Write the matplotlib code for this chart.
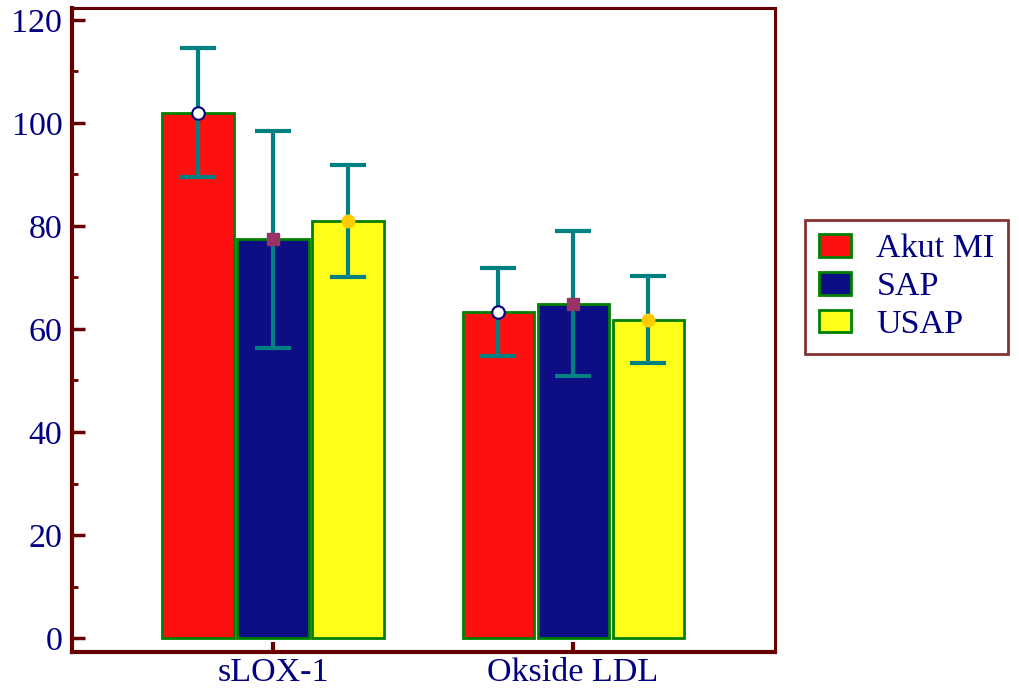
import matplotlib.pyplot as plt
import numpy as np

# groups and series
groups = ['sLOX-1', 'Okside LDL']
series = ['Akut MI', 'SAP', 'USAP']
means = {
    'Akut MI': [102.0, 63.3],
    'SAP': [77.4, 64.9],
    'USAP': [81.0, 61.8],
}
sd = {
    'Akut MI': [12.5, 8.6],
    'SAP': [21.0, 14.1],
    'USAP': [10.9, 8.5],
}

bar_colors = {'Akut MI': '#ff1010', 'SAP': '#0e0e84', 'USAP': '#ffff1a'}
mark_style = {
    'Akut MI': dict(marker='o', mfc='white', mec='#000080', ms=9, mew=1.5),
    'SAP': dict(marker='s', mfc='#993366', mec='#993366', ms=9, mew=1),
    'USAP': dict(marker='o', mfc='#ffcc00', mec='#ffcc00', ms=9, mew=1),
}

plt.rcParams['font.family'] = ['Liberation Serif', 'DejaVu Serif']
navy = '#000080'
maroon = '#660000'

fig = plt.figure(figsize=(10.2, 6.95), dpi=100)
# axes box in pixels: left 72, right 775, top 8, bottom 652
ax = fig.add_axes([72 / 1020, 1 - 652 / 695, (775 - 72) / 1020, (652 - 8) / 695])

x = np.arange(len(groups))
w = 0.237
step = 0.25
handles = []
for i, s in enumerate(series):
    xs = x + (i - 1) * step
    b = ax.bar(xs, means[s], width=w, color=bar_colors[s], edgecolor='#008000',
               linewidth=2, label=s, zorder=2)
    handles.append(b)
    ax.errorbar(xs, means[s], yerr=sd[s], fmt='none', ecolor='#008080',
                elinewidth=3, capsize=13, capthick=3, zorder=3)
    ax.plot(xs, means[s], linestyle='none', zorder=4, **mark_style[s])

ax.set_xlim(-0.67, 1.673)
ax.set_ylim(-2.7, 122.3)
ax.set_yticks(np.arange(0, 121, 20))
ax.set_yticks(np.arange(10, 120, 20), minor=True)
ax.set_xticks(x)
ax.set_xticklabels(groups)

for sp in ax.spines.values():
    sp.set_color(maroon)
    sp.set_linewidth(2.2)
ax.spines['left'].set_linewidth(3)
ax.spines['bottom'].set_linewidth(3)

fs = 24.5
ax.tick_params(axis='y', which='major', direction='in', length=9, width=2.5,
               color=maroon, labelcolor=navy, labelsize=fs, pad=7)
ax.tick_params(axis='y', which='minor', direction='in', length=4.5, width=2,
               color=maroon)
ax.tick_params(axis='x', which='major', direction='in', length=7, width=3,
               color=maroon, labelcolor=navy, labelsize=fs, pad=4)

leg = fig.legend(handles=handles, labels=series, loc='upper left',
                 bbox_to_anchor=(805 / 1020, 1 - 220 / 695), fontsize=fs,
                 frameon=True, fancybox=False, labelcolor=navy,
                 handlelength=0.95, handleheight=0.65, handletextpad=0.75,
                 labelspacing=0.22, borderpad=0.4, borderaxespad=0)
leg.get_frame().set_edgecolor(maroon)
leg.get_frame().set_linewidth(2)

fig.savefig('out.png', dpi=100)
